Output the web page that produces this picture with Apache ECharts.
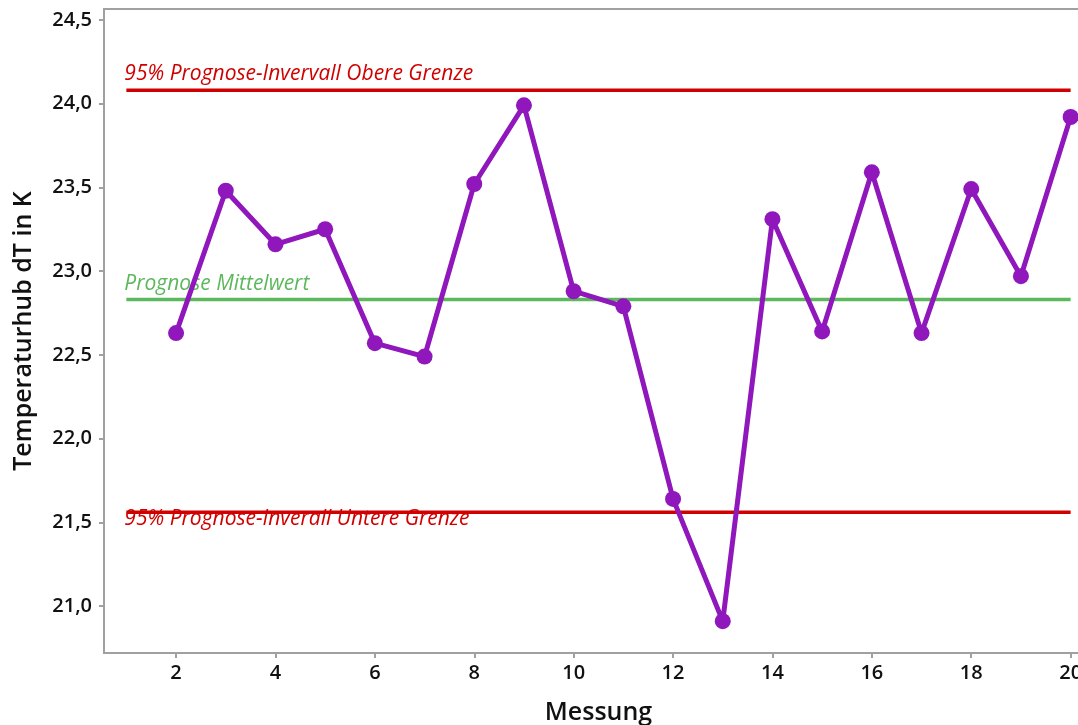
<!DOCTYPE html>
<html><head><meta charset="utf-8">
<script src="https://cdn.jsdelivr.net/npm/echarts@6/dist/echarts.min.js"></script>
<style>html,body{margin:0;padding:0;background:#fff}#c{width:1078px;height:725px}</style>
</head><body><div id="c"></div>
<script>
const messung = [2,3,4,5,6,7,8,9,10,11,12,13,14,15,16,17,18,19,20];
const temperaturhub = [22.63,23.48,23.16,23.25,22.57,22.49,23.52,23.99,22.88,22.79,21.64,20.91,23.31,22.64,23.59,22.63,23.49,22.97,23.92];
const obereGrenze = 24.08;
const mittelwert = 22.83;
const untereGrenze = 21.56;
const refLineX = [1, 20];
const xTicks = [2,4,6,8,10,12,14,16,18,20];
const yTicks = [21,21.5,22,22.5,23,23.5,24,24.5];
const labelOben = '95% Prognose-Invervall Obere Grenze';
const labelMitte = 'Prognose Mittelwert';
const labelUnten = '95% Prognose-Inverall Untere Grenze';

const FONT = '"Open Sans", "Noto Sans", sans-serif';
const chart = echarts.init(document.getElementById('c'));
function refLine(v, color, text, labelOffsetY){
  return {
    type:'line', symbol:'circle', symbolSize:0, silent:true, z:1,
    data:[{value:[refLineX[0],v], label:{show:true, formatter:text, position:'right', offset:[-7,labelOffsetY],
        color:color, fontStyle:'italic', fontSize:21, fontFamily:FONT}},
      [refLineX[1],v]],
    lineStyle:{color:color,width:3.5}, itemStyle:{color:color}
  };
}
chart.setOption({
  animation:false,
  grid:{left:104, top:9, width:989, height:644, outerBoundsMode:'none', containLabel:false,
    show:true, borderColor:'#a0a0a0', borderWidth:2},
  xAxis:{type:'value', min:0.55, max:20.45, name:'Messung', nameLocation:'middle', nameGap:47,
    nameTextStyle:{fontSize:25, fontWeight:600, color:'#111', fontFamily:FONT},
    axisLine:{show:true, lineStyle:{color:'#a0a0a0', width:2}},
    axisTick:{show:true, length:5, lineStyle:{color:'#a0a0a0', width:2}, customValues:xTicks},
    axisLabel:{fontSize:20, fontWeight:600, color:'#111', fontFamily:FONT, margin:10,
      customValues:xTicks, formatter:v=>String(v)},
    splitLine:{show:false}},
  yAxis:{type:'value', min:20.72, max:24.565, name:'Temperaturhub dT in K', nameLocation:'middle', nameGap:68,
    nameTextStyle:{fontSize:25, fontWeight:600, color:'#111', fontFamily:FONT},
    axisLine:{show:true, lineStyle:{color:'#a0a0a0', width:2}},
    axisTick:{show:true, length:5, lineStyle:{color:'#a0a0a0', width:2}, customValues:yTicks},
    axisLabel:{fontSize:20, fontWeight:600, color:'#111', fontFamily:FONT, margin:12,
      customValues:yTicks, formatter:v=>v.toFixed(1).replace('.',',')},
    splitLine:{show:false}},
  series:[
    refLine(obereGrenze,'#d00000',labelOben,-16),
    refLine(mittelwert,'#5cb85c',labelMitte,-16),
    refLine(untereGrenze,'#d00000',labelUnten,7),
    {type:'line', data:messung.map((x,i)=>[x,temperaturhub[i]]), symbol:'circle', symbolSize:16, z:5,
      lineStyle:{color:'#8f17bb', width:5}, itemStyle:{color:'#8f17bb'}}
  ]
});
</script></body></html>
